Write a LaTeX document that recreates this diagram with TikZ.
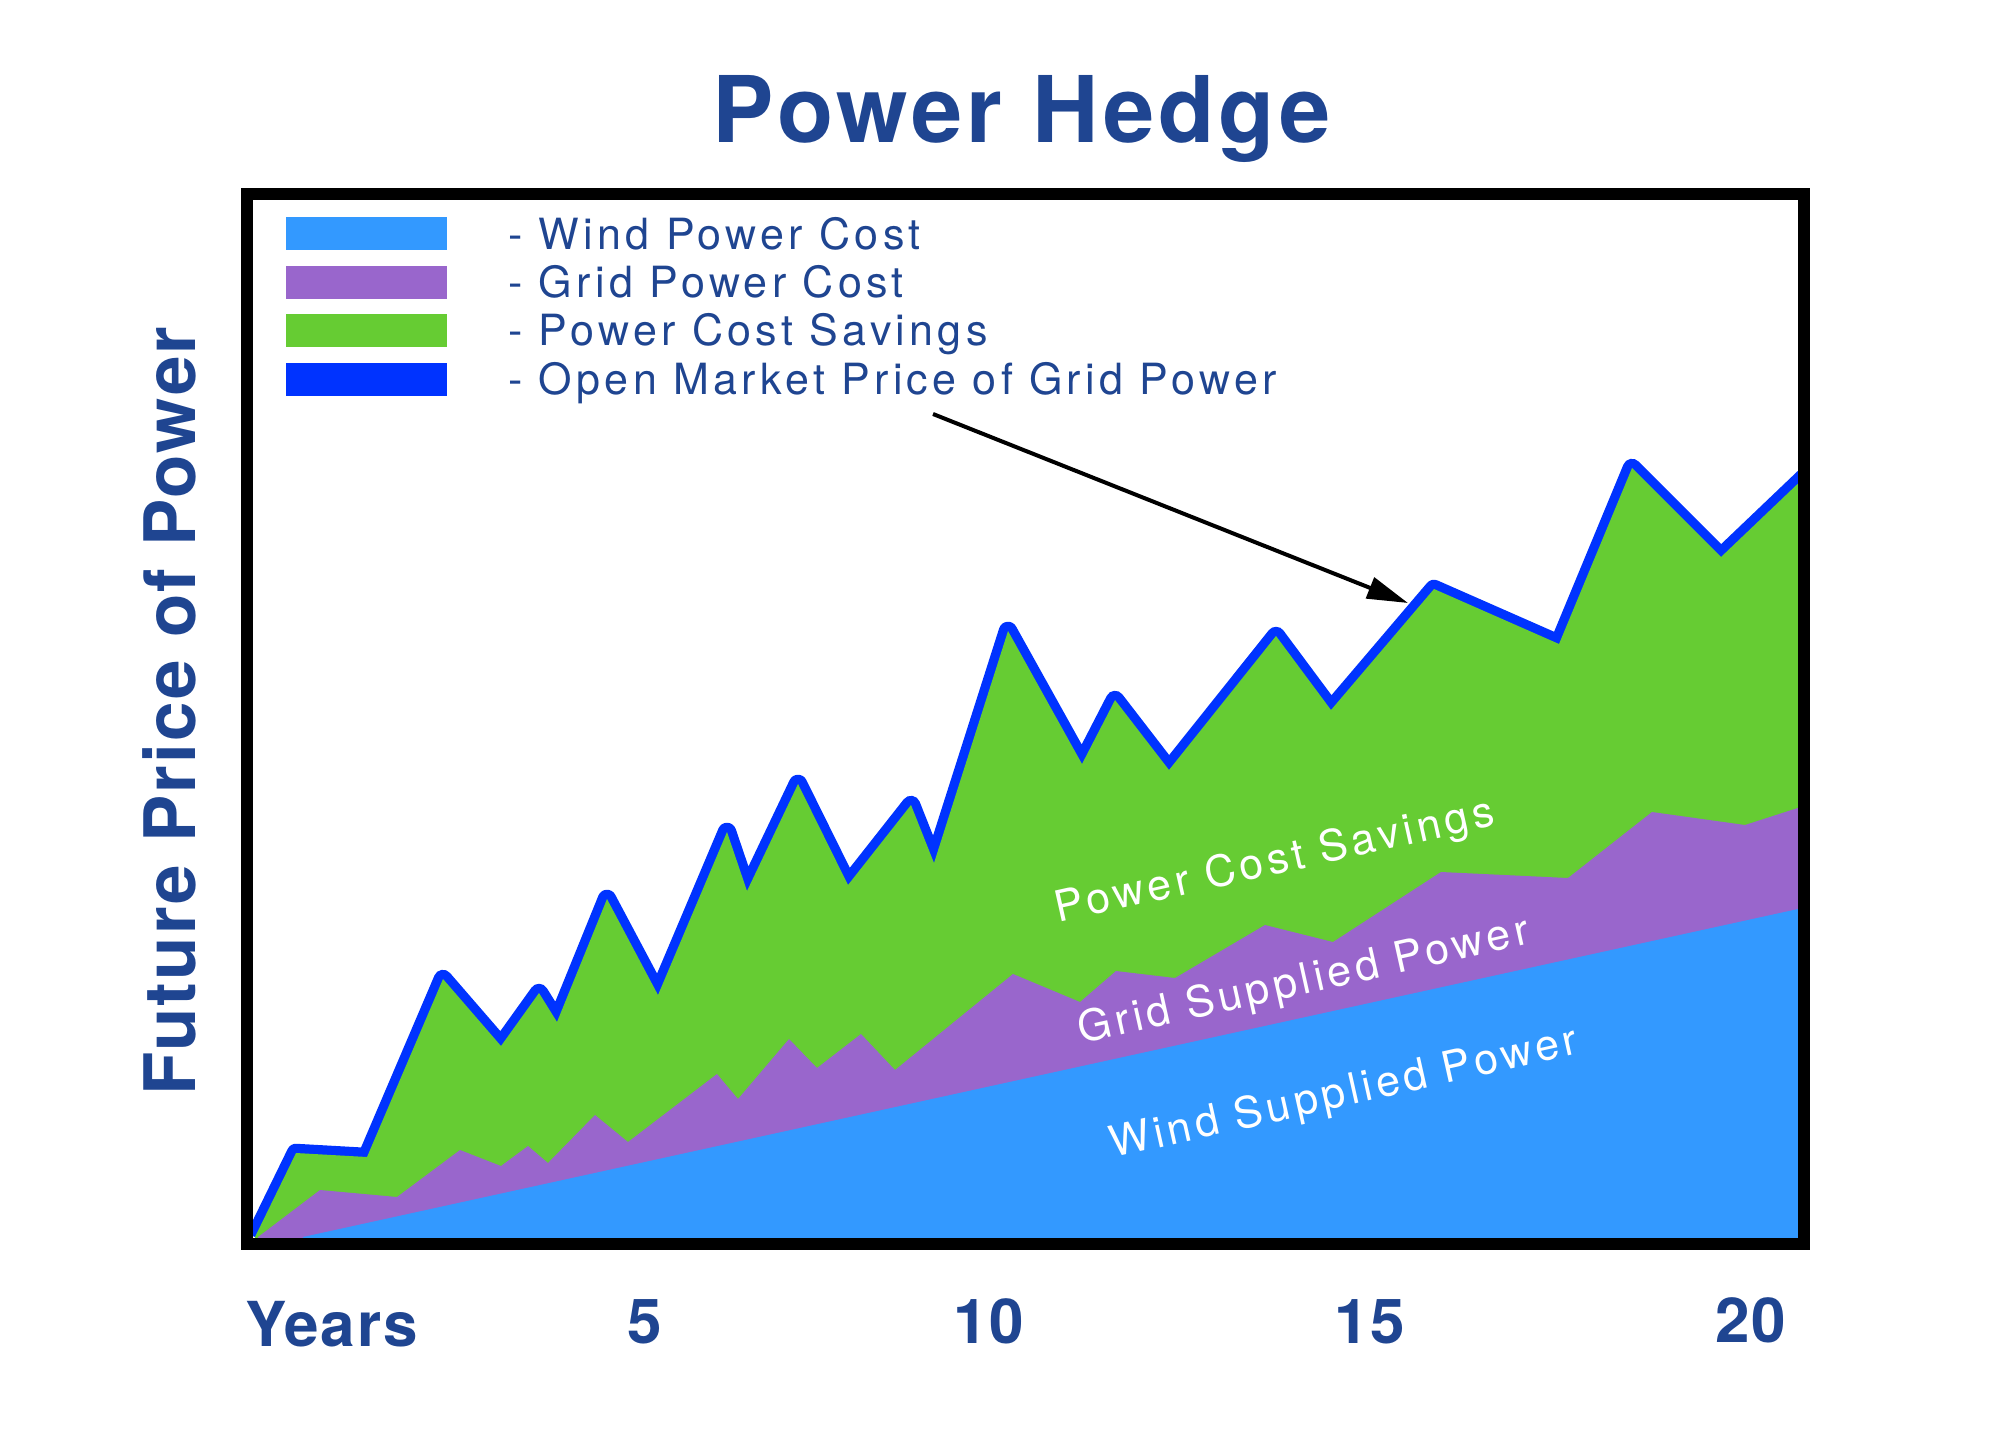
\documentclass[tikz,border=0pt]{standalone}
\usepackage{fontspec}
\setmainfont{TeX Gyre Heros}
\usetikzlibrary{arrows.meta}
\definecolor{windc}{HTML}{3399FF}
\definecolor{gridc}{HTML}{9966CC}
\definecolor{savec}{HTML}{66CC33}
\definecolor{marketc}{HTML}{0033FF}
\definecolor{navy}{HTML}{1F4591}
\begin{document}
\begin{tikzpicture}[x=0.5pt,y=-0.5pt,
  swatch/.style={minimum width=80.5pt,minimum height=16.5pt,inner sep=0pt,draw=none,rectangle},
  legtext/.style={anchor=base west,inner sep=0pt,text=navy,font=\fontsize{21.5}{24}\selectfont\addfontfeature{LetterSpace=10}},
  arealabel/.style={anchor=base west,inner sep=0pt,text=white,rotate=12.6,font=\fontsize{21.5}{24}\selectfont\addfontfeature{LetterSpace=10}},
  axislabel/.style={anchor=base,inner sep=0pt,text=navy,font=\fontsize{31}{34}\selectfont\bfseries\addfontfeature{LetterSpace=3}},
  pricecurve/.style={draw=marketc,line width=9.25pt,line join=round}
]
\useasboundingbox (0,0) rectangle (2000,1429);
% title and axis titles
\node[anchor=base,inner sep=0pt,text=navy,font=\fontsize{46}{50}\selectfont\bfseries\addfontfeature{LetterSpace=4.5}] (title) at (1022,142) {Power Hedge};
\node[anchor=base,inner sep=0pt,rotate=90,text=navy,font=\fontsize{35.5}{38}\selectfont\bfseries\addfontfeature{LetterSpace=3.2}] (ylabel) at (195,711) {Future Price of Power};
% chart coordinates
\foreach \n/\p in {0/{255,1237},1/{296,1153},2/{367,1157},3/{443,979},4/{501,1046},5/{539,993},6/{557,1022},7/{607,899},8/{658,995},9/{727,832},10/{747,891},11/{798,784},12/{848,885},13/{911,805},14/{934,863},15/{1008,631},16/{1082,764},17/{1115,700},18/{1169,770},19/{1276,636},20/{1331,710},21/{1434,589},22/{1559,644},23/{1632,468},24/{1721,557},25/{1830,453}}
  \coordinate (b\n) at (\p);
\foreach \n/\p in {0/{258,1237},1/{320,1190},2/{397,1197},3/{460,1150},4/{501,1166},5/{528,1146},6/{548,1163},7/{595,1115},8/{628,1142},9/{717,1074},10/{738,1099},11/{789,1039},12/{817,1068},13/{861,1034},14/{895,1070},15/{1013,974},16/{1080,1002},17/{1116,971},18/{1175,978},19/{1265,925},20/{1333,942},21/{1441,872},22/{1568,878},23/{1652,812},24/{1745,825},25/{1810,804}}
  \coordinate (g\n) at (\p);
\begin{scope}
  \clip (253,201) rectangle (1798,1237);
  \path[pricecurve] (b0) \foreach \i in {1,...,25} {-- (b\i)};
  \fill[savec] (b0) \foreach \i in {1,...,25} {-- (b\i)} -- (1830,1260) -- (255,1260) -- cycle;
  \fill[gridc] (g0) \foreach \i in {1,...,25} {-- (g\i)} -- (1810,1260) -- (258,1260) -- cycle;
  \fill[windc] (303,1237) -- (1798,909) -- (1810,909) -- (1810,1260) -- (303,1260) -- cycle;
\end{scope}
% frame
\draw[line width=6.25pt] (247,194) rectangle (1804,1244);
% area labels
\node[arealabel] (lsave) at (1058,923) {Power Cost Savings};
\node[arealabel] (lgrid) at (1081,1044) {Grid Supplied Power};
\node[arealabel] (lwind) at (1113,1158) {Wind Supplied Power};
% legend
\node[swatch,fill=windc] (sw1) at (366.5,233.5) {};
\node[swatch,fill=gridc] (sw2) at (366.5,282.5) {};
\node[swatch,fill=savec] (sw3) at (366.5,330.5) {};
\node[swatch,fill=marketc] (sw4) at (366.5,379) {};
\node[legtext] (t1) at (508,249) {- Wind Power Cost};
\node[legtext] (t2) at (508,297) {- Grid Power Cost};
\node[legtext] (t3) at (508,345) {- Power Cost Savings};
\node[legtext] (t4) at (508,394) {- Open Market Price of Grid Power};
% arrow
\coordinate (arrstart) at (933,414);
\coordinate (arrtip) at (1408,603);
\draw[line width=2pt,-{Triangle[length=20.5pt,width=11pt]}] (arrstart) -- (arrtip);
% x axis labels
\node[axislabel,anchor=base west] (years) at (245,1346) {Years};
\node[axislabel] (x5) at (645,1343) {5};
\node[axislabel] (x10) at (989,1343) {10};
\node[axislabel] (x15) at (1370,1343) {15};
\node[axislabel] (x20) at (1751,1342) {20};
\end{tikzpicture}
\end{document}
